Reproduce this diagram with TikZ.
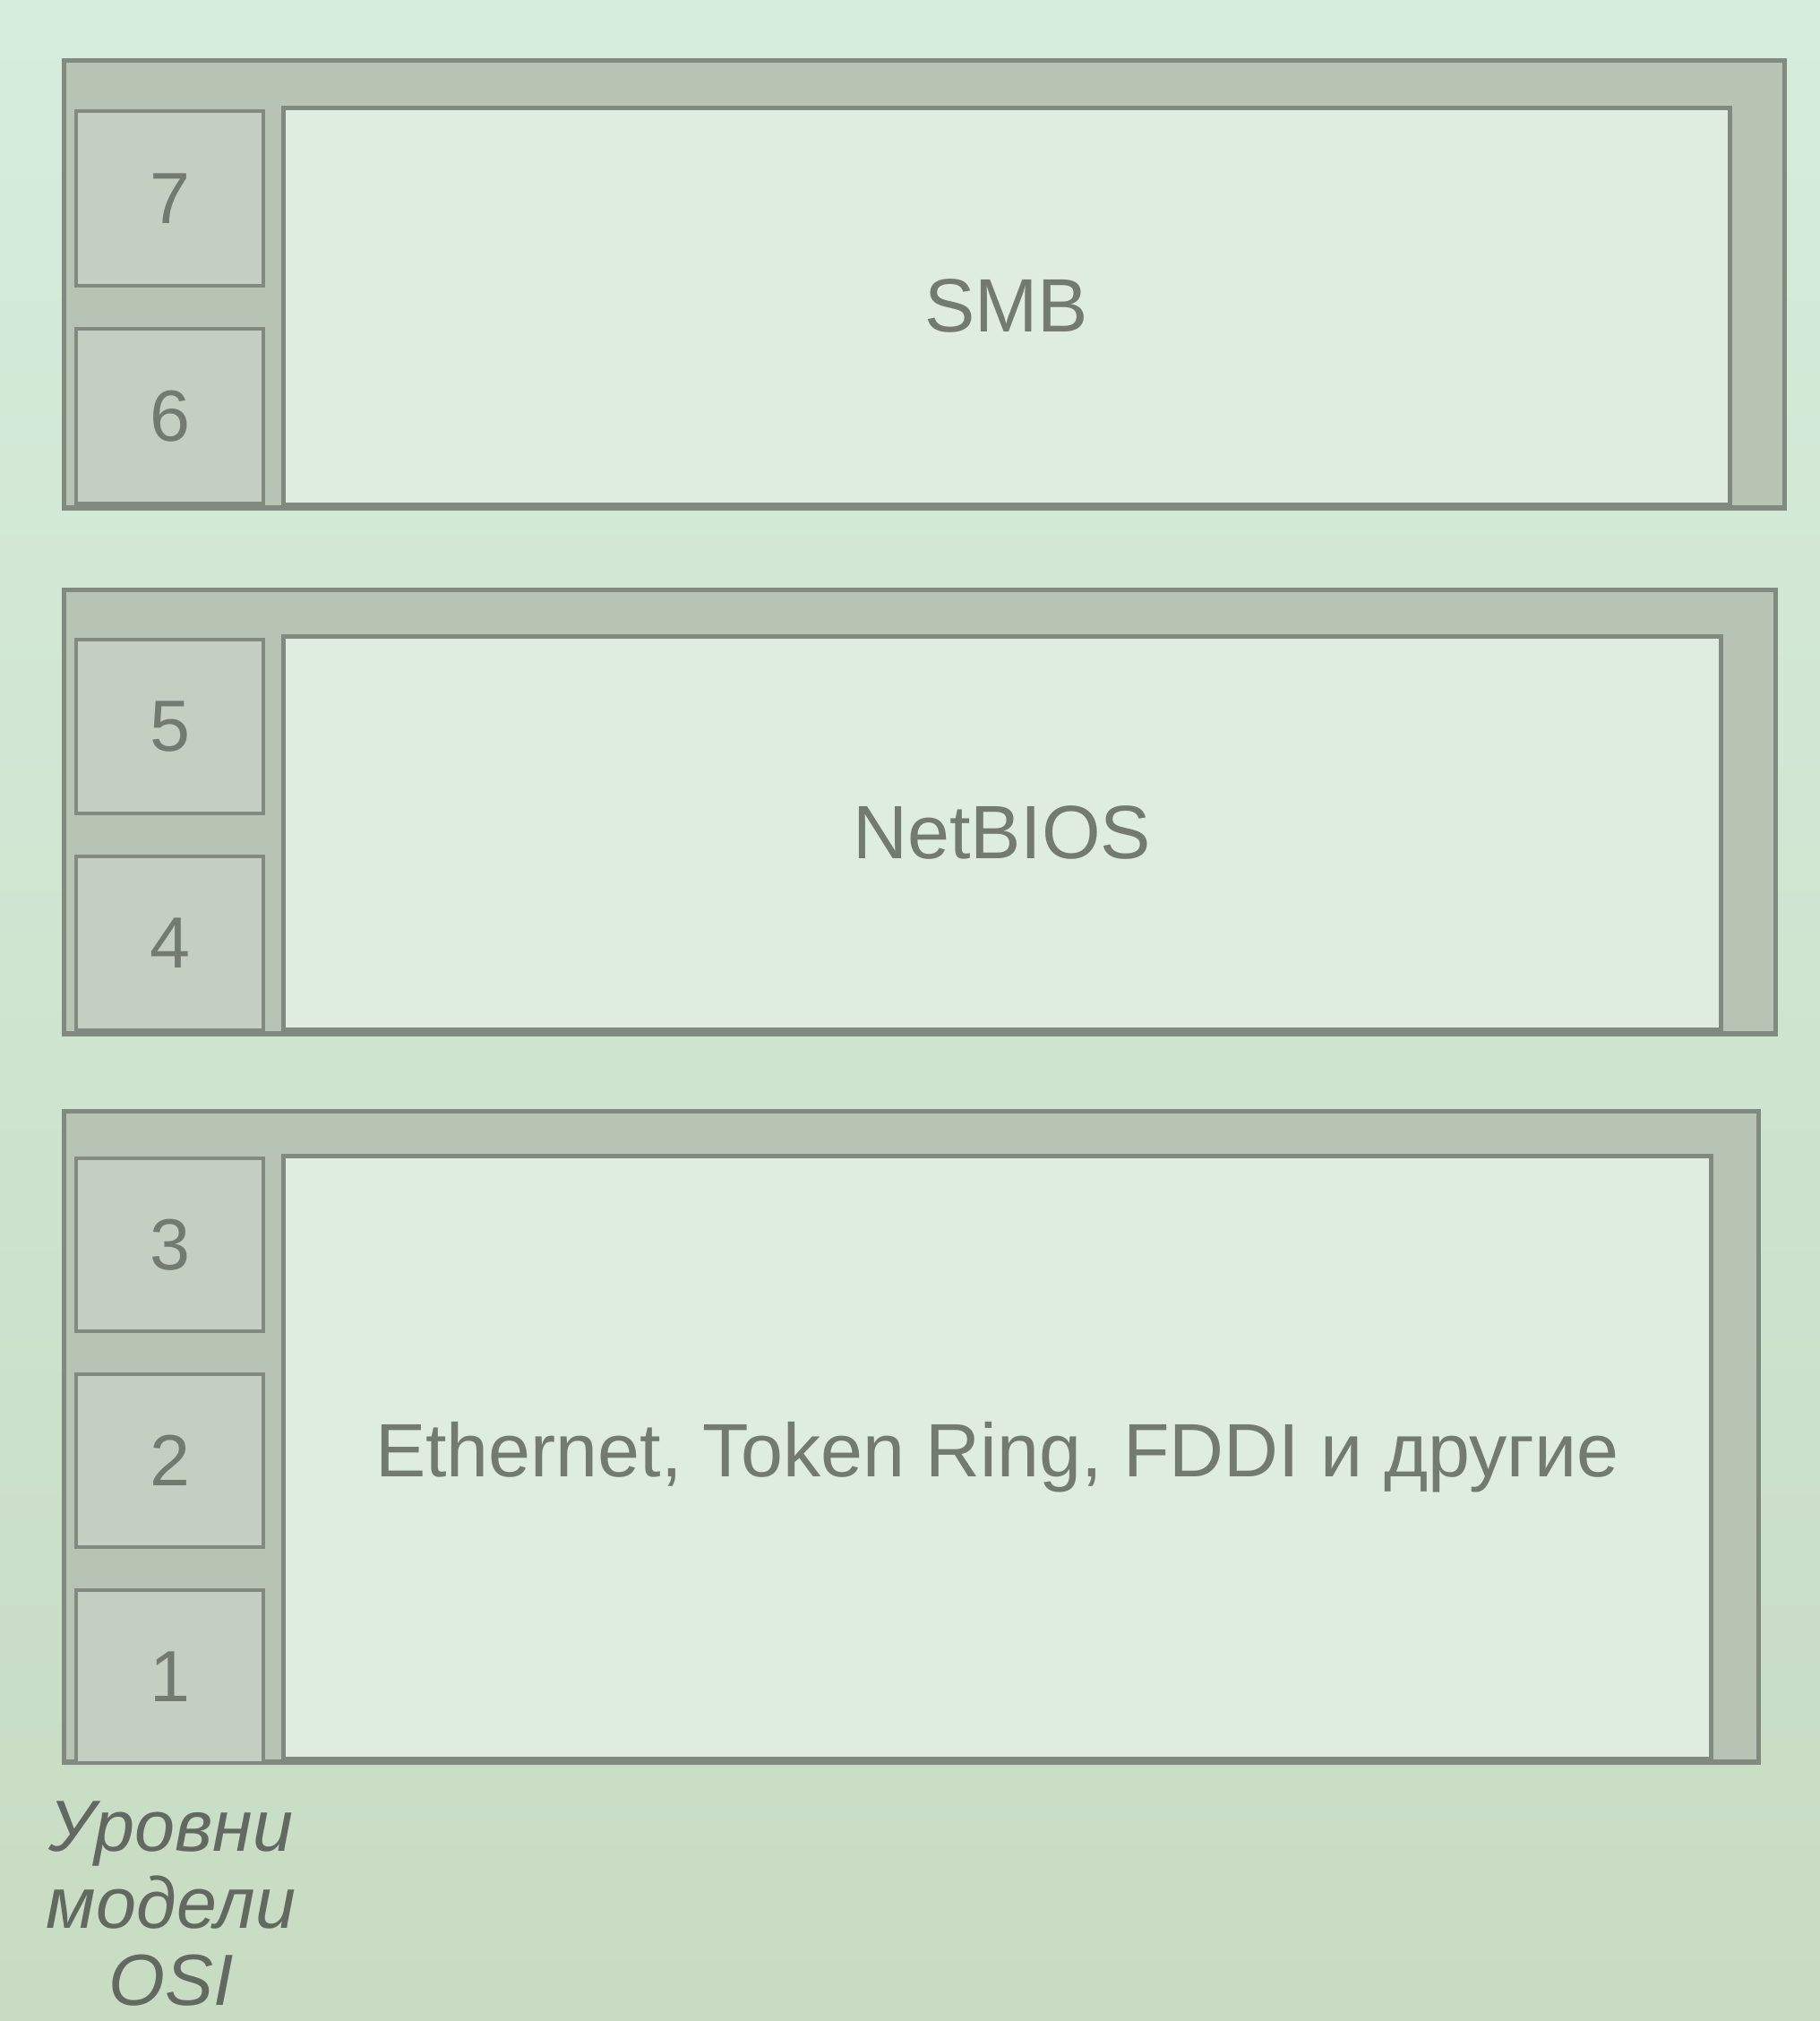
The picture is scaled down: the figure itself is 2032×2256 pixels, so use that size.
\documentclass[tikz,border=0pt]{standalone}
\usepackage{fontspec}
\setmainfont{Liberation Sans}
\usetikzlibrary{positioning}
\definecolor{papertop}{HTML}{D6EDDC}
\definecolor{paperbot}{HTML}{C8DCC3}
\definecolor{band}{HTML}{B7C3B3}
\definecolor{panel}{HTML}{DEEDDF}
\definecolor{cell}{HTML}{C4CFC1}
\definecolor{edge}{HTML}{808A7E}
\definecolor{ink}{HTML}{737B71}

\begin{document}
\begin{tikzpicture}[
    x=0.01cm, y=-0.01cm,
    frame/.style={
      draw=edge,
      fill=band,
      line width=1.5pt,
      inner sep=0pt,
      anchor=north west,
    },
    layer/.style={
      draw=edge,
      fill=panel,
      line width=1.3pt,
      inner sep=0pt,
      anchor=north west,
      text=ink,
      font=\fontsize{24}{28}\selectfont,
    },
    level/.style={
      draw=edge,
      fill=cell,
      line width=1.1pt,
      inner sep=0pt,
      minimum width=2.09cm,
      minimum height=1.95cm,
      text=ink,
      font=\fontsize{23}{26}\selectfont,
    },
    ]
    \shade[top color=papertop, bottom color=paperbot] (0,0) rectangle (2032,2256);
    \useasboundingbox (0,0) rectangle (2032,2256);

    % SMB
    \node[frame, minimum width=19.20cm, minimum height=4.99cm] (smbframe) at (69,65) {};
    \node[layer, minimum width=16.14cm, minimum height=4.43cm] (smb) at (314,118) {SMB};
    \node[level, anchor=north west] (l7) at (83,122) {7};
    \node[level, below=0.44cm of l7] (l6) {6};

    % NetBIOS
    \node[frame, minimum width=19.10cm, minimum height=4.95cm] (nbframe) at (69,656) {};
    \node[layer, minimum width=16.04cm, minimum height=4.39cm] (netbios) at (314,708) {NetBIOS};
    \node[level, minimum height=1.94cm, anchor=north west] (l5) at (83,712) {5};
    \node[level, minimum height=1.94cm, below=0.44cm of l5] (l4) {4};

    % lower layers
    \node[frame, minimum width=18.91cm, minimum height=7.26cm] (lanframe) at (69,1238) {};
    \node[layer, minimum width=15.93cm, minimum height=6.73cm] (lan) at (314,1288) {Ethernet, Token Ring, FDDI и другие};
    \node[level, minimum height=1.93cm, anchor=north west] (l3) at (83,1291) {3};
    \node[level, minimum height=1.93cm, below=0.44cm of l3] (l2) {2};
    \node[level, minimum height=1.93cm, below=0.44cm of l2] (l1) {1};

    \node[align=center, inner sep=0pt, text=ink!85!black,
      font=\fontsize{23}{24.4}\selectfont\itshape] (osi) at (191,2125)
      {Уровни\\модели\\OSI};
  \end{tikzpicture}
\end{document}
